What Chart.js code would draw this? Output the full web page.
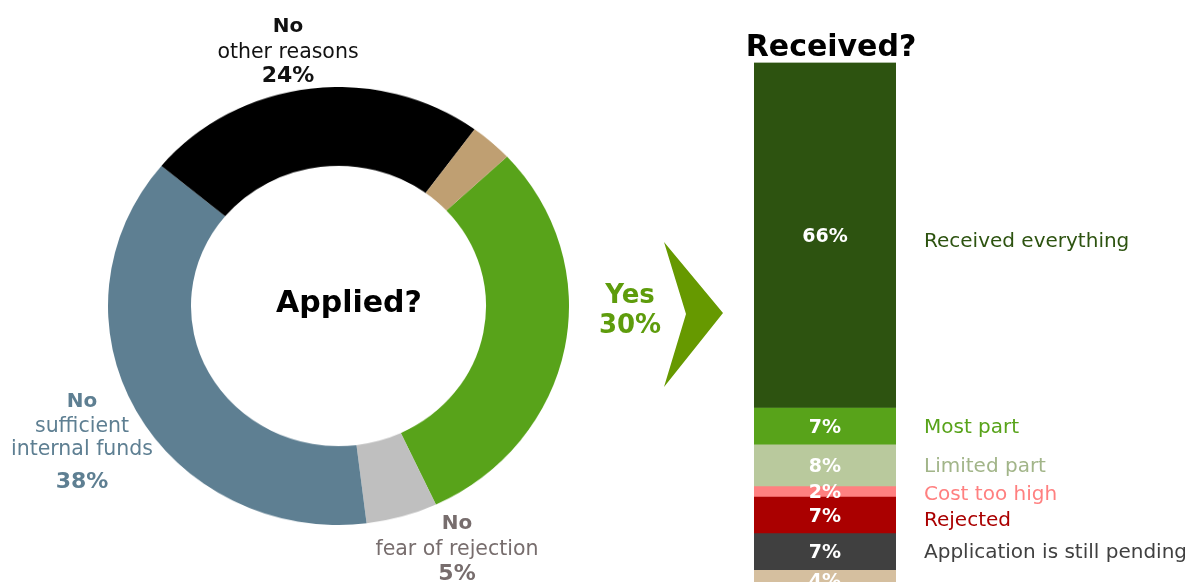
<!DOCTYPE html>
<html>
<head>
<meta charset="utf-8">
<title>Applied? / Received?</title>
<script src="https://cdn.jsdelivr.net/npm/chart.js@4.4.1/dist/chart.umd.min.js"></script>
<style>
  html, body { margin: 0; padding: 0; width: 1185px; height: 582px; overflow: hidden; background: #fff; }
  /* the ring is drawn slightly flattened, as in the printed figure */
  #ringBox { position: absolute; left: 108px; top: 87px; width: 461px; height: 461px;
             transform: scaleY(0.95); transform-origin: 0 0; }
  #barBox { position: absolute; left: 0; top: 0; width: 1185px; height: 600px; }
</style>
</head>
<body>
<div id="ringBox"><canvas id="ring"></canvas></div>
<div id="barBox"><canvas id="bars"></canvas></div>
<script>
// ---- Applied for external financing? (ring) ----
const appliedCategories = ['Yes', 'No – fear of rejection', 'No – sufficient internal funds', 'No – other reasons', "Don't know"];
const appliedShares = [30, 5, 38, 24, 3];
const appliedColors = ['#58a31a', '#bfbfbf', '#5e7f92', '#000000', '#bf9f72'];

// ---- Of those who applied: received? (stacked bar) ----
const receivedCategories = ['Received everything', 'Most part', 'Limited part', 'Cost too high', 'Rejected', 'Application is still pending', "Don't know"];
const receivedShares = [66, 7, 8, 2, 7, 7, 4];
const receivedColors = ['#2d5310', '#58a31a', '#b9c99d', '#ff8080', '#aa0000', '#404040', '#d5bf9f'];
const receivedTextColors = ['#2d5310', '#58a31a', '#a2b589', '#ff8080', '#aa0000', '#404040', null];

const FONT = '"DejaVu Sans", Verdana, sans-serif';

function put(ctx, str, x, y, size, bold, color, align) {
  ctx.font = (bold ? 'bold ' : '') + size + 'px ' + FONT;
  ctx.fillStyle = color;
  ctx.textAlign = align || 'center';
  ctx.textBaseline = 'alphabetic';
  ctx.fillText(str, x, y);
}

// Ring annotations: heading, description lines and share, placed around the ring
const ringNotes = [
  { idx: 0, x: 630, color: '#5e9c0c', head: 'Yes', headY: 303, headSize: 26, lines: [], valueY: 333, valueSize: 26 },
  { idx: 1, x: 457, color: '#776d6d', head: 'No', headY: 529, headSize: 20, lines: [['fear of rejection', 555]], valueY: 580, valueSize: 22 },
  { idx: 2, x: 82, color: '#5e7f92', head: 'No', headY: 407, headSize: 20, lines: [['sufficient', 432], ['internal funds', 455]], valueY: 488, valueSize: 22 },
  { idx: 3, x: 288, color: '#111111', head: 'No', headY: 32, headSize: 20, lines: [['other reasons', 58]], valueY: 82, valueSize: 22 }
];

// Small vertical nudges of the category names beside the bar
const sideNudge = [5, 0, 0, 2, 4, 0, 0];

const annotate = {
  id: 'annotate',
  afterDatasetsDraw(chart) {
    const ctx = chart.ctx;
    const area = chart.chartArea;
    ctx.save();

    // titles
    put(ctx, 'Applied?', 349, 312, 30, true, '#000');
    put(ctx, 'Received?', 831, 56, 30, true, '#000');

    // ring labels
    ringNotes.forEach(n => {
      put(ctx, n.head, n.x, n.headY, n.headSize, true, n.color);
      n.lines.forEach(([s, y]) => put(ctx, s, n.x, y, 20.5, false, n.color));
      put(ctx, appliedShares[n.idx] + '%', n.x, n.valueY, n.valueSize, true, n.color);
    });

    // arrow from "Yes" to the bar
    ctx.beginPath();
    ctx.moveTo(664, 242);
    ctx.lineTo(723, 313);
    ctx.lineTo(664, 387);
    ctx.lineTo(686, 314);
    ctx.closePath();
    ctx.fillStyle = '#669900';
    ctx.fill();

    // values inside the bar and names beside it
    receivedShares.forEach((v, i) => {
      const bar = chart.getDatasetMeta(i).data[0];
      const mid = (bar.y + bar.base) / 2;
      put(ctx, v + '%', bar.x, mid + 7, 19, true, '#ffffff');
      if (receivedTextColors[i]) {
        put(ctx, receivedCategories[i], area.right + 28, mid + 7 + sideNudge[i], 20, false, receivedTextColors[i], 'left');
      }
    });
    ctx.restore();
  }
};

new Chart(document.getElementById('ring'), {
  type: 'doughnut',
  data: {
    labels: appliedCategories,
    datasets: [{ data: appliedShares, backgroundColor: appliedColors, borderWidth: 0 }]
  },
  options: {
    responsive: true,
    maintainAspectRatio: false,
    animation: false,
    rotation: 47,
    cutout: '64%',
    layout: { padding: 0 },
    plugins: { legend: { display: false }, tooltip: { enabled: false } }
  }
});

const total = receivedShares.reduce((a, b) => a + b, 0);

new Chart(document.getElementById('bars'), {
  type: 'bar',
  data: {
    labels: ['Received?'],
    datasets: receivedShares.map((v, i) => ({
      label: receivedCategories[i],
      data: [v],
      backgroundColor: receivedColors[i],
      borderWidth: 0,
      barPercentage: 1,
      categoryPercentage: 1
    }))
  },
  options: {
    responsive: true,
    maintainAspectRatio: false,
    animation: false,
    layout: { padding: { left: 754, right: 289, top: 62.5, bottom: 9.5 } },
    scales: {
      x: { stacked: true, display: false },
      y: { stacked: true, display: false, min: 0, max: total, reverse: true }
    },
    plugins: { legend: { display: false }, tooltip: { enabled: false } }
  },
  plugins: [annotate]
});
</script>
</body>
</html>
